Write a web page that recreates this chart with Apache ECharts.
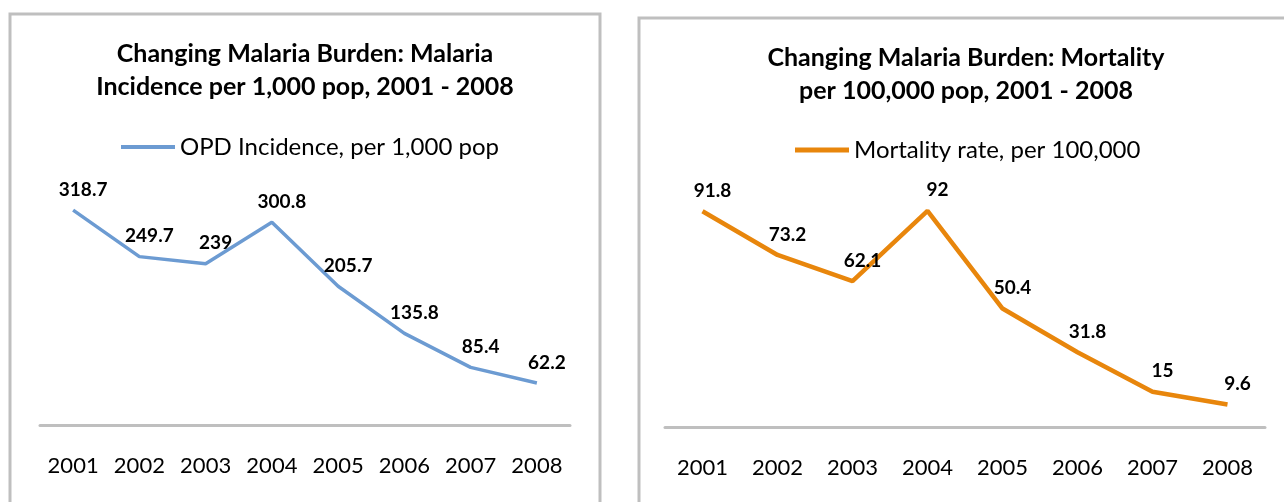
<!DOCTYPE html>
<html>
<head>
<meta charset="utf-8">
<script src="https://cdn.jsdelivr.net/npm/echarts@6/dist/echarts.min.js"></script>
<style>
  html, body { margin: 0; padding: 0; background: #fff; }
  #chart { width: 1284px; height: 502px; }
</style>
</head>
<body>
<div id="chart"></div>
<script>
// Data
const years = ["2001", "2002", "2003", "2004", "2005", "2006", "2007", "2008"];
const incidence = [318.7, 249.7, 239, 300.8, 205.7, 135.8, 85.4, 62.2];
const mortality = [91.8, 73.2, 62.1, 92, 50.4, 31.8, 15, 9.6];

const incidenceName = "OPD Incidence, per 1,000 pop";
const mortalityName = "Mortality rate, per 100,000";

const FONT = "Lato";
const GREY = "#bfbfbf";
const BLUE = "#6c9bd2";
const ORANGE = "#e8860c";

const chart = echarts.init(document.getElementById("chart"));

const titleStyle = {
  fontFamily: FONT,
  fontWeight: "bold",
  fontSize: 25,
  lineHeight: 33,
  color: "#000",
};

const xAxisCommon = {
  type: "category",
  data: years,
  axisLine: { lineStyle: { color: GREY, width: 3 } },
  axisTick: { show: false },
  axisLabel: {
    interval: 0,
    fontFamily: FONT,
    fontSize: 22,
    color: "#000",
    margin: 30,
  },
};

const yAxisCommon = {
  type: "value",
  min: 0,
  show: false,
  splitLine: { show: false },
};

const labelCommon = {
  show: true,
  position: "top",
  distance: 6,
  offset: [10, -5],
  fontFamily: FONT,
  fontWeight: "bold",
  fontSize: 19,
  color: "#000",
};

chart.setOption({
  animation: false,
  graphic: [
    {
      type: "rect",
      shape: { x: 10, y: 14, width: 590, height: 520 },
      style: { fill: "none", stroke: GREY, lineWidth: 3 },
    },
    {
      type: "rect",
      shape: { x: 639, y: 18, width: 660, height: 520 },
      style: { fill: "none", stroke: GREY, lineWidth: 3 },
    },
  ],
  title: [
    {
      text: "Changing Malaria Burden: Malaria\nIncidence per 1,000 pop, 2001 - 2008",
      left: 300,
      top: 32,
      textAlign: "center",
      textStyle: titleStyle,
    },
    {
      text: "Changing Malaria Burden: Mortality\nper 100,000 pop, 2001 - 2008",
      left: 961,
      top: 36,
      textAlign: "center",
      textStyle: titleStyle,
    },
  ],
  legend: [
    {
      data: [incidenceName],
      left: 116,
      top: 130,
      icon: "rect",
      itemWidth: 54,
      itemHeight: 4,
      itemGap: 6,
      itemStyle: { color: BLUE },
      textStyle: { fontFamily: FONT, fontSize: 24, color: "#000", padding: [6, 0, 0, 0] },
    },
    {
      data: [mortalityName],
      left: 790,
      top: 133,
      icon: "rect",
      itemWidth: 54,
      itemHeight: 5,
      itemStyle: { color: ORANGE },
      textStyle: { fontFamily: FONT, fontSize: 24, color: "#000", padding: [6, 0, 0, 0] },
    },
  ],
  grid: [
    { left: 40, right: 714, top: 189, bottom: 77 },
    { left: 665, right: 19, top: 192, bottom: 75 },
  ],
  xAxis: [
    Object.assign({ gridIndex: 0 }, xAxisCommon),
    Object.assign({ gridIndex: 1 }, xAxisCommon),
  ],
  yAxis: [
    Object.assign({ gridIndex: 0, max: 350 }, yAxisCommon),
    Object.assign({ gridIndex: 1, max: 100 }, yAxisCommon),
  ],
  series: [
    {
      name: incidenceName,
      type: "line",
      xAxisIndex: 0,
      yAxisIndex: 0,
      data: incidence,
      symbol: "circle",
      symbolSize: 0.1,
      color: BLUE,
      lineStyle: { color: BLUE, width: 3.5 },
      label: labelCommon,
    },
    {
      name: mortalityName,
      type: "line",
      xAxisIndex: 1,
      yAxisIndex: 1,
      data: mortality,
      symbol: "circle",
      symbolSize: 0.1,
      color: ORANGE,
      lineStyle: { color: ORANGE, width: 4.5 },
      label: labelCommon,
    },
  ],
});
</script>
</body>
</html>
